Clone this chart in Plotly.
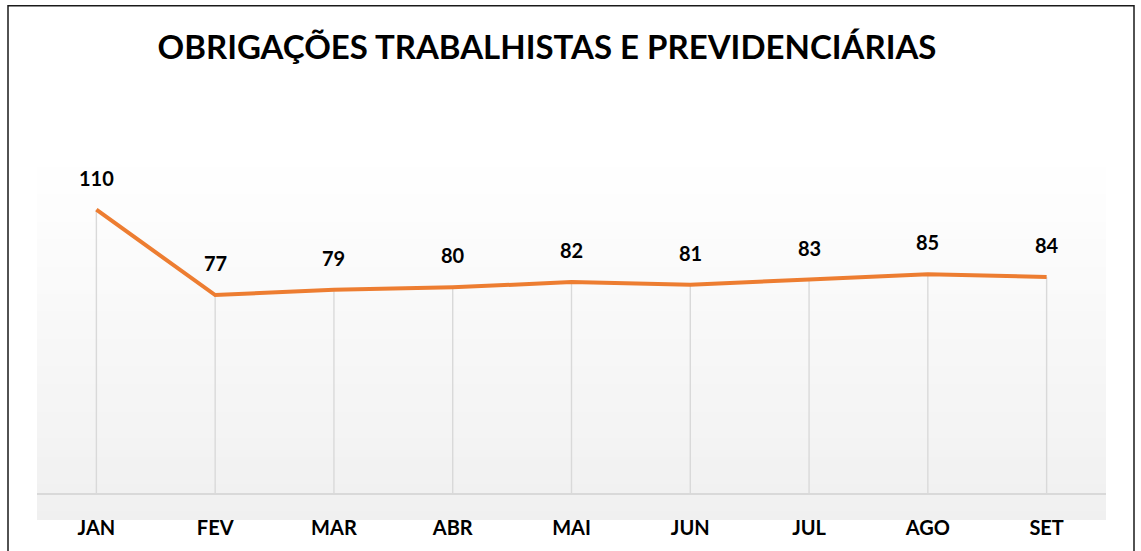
import plotly.graph_objects as go

months = ["JAN", "FEV", "MAR", "ABR", "MAI", "JUN", "JUL", "AGO", "SET"]
values = [110, 77, 79, 80, 82, 81, 83, 85, 84]
title_text = "OBRIGAÇÕES TRABALHISTAS E PREVIDENCIÁRIAS"

W, H = 1141, 551
L, R, T, B = 37, 35, 158, 29
plot_h = H - T - B
plot_w = W - L - R

fig = go.Figure()

# drop lines from each point to zero
fig.add_trace(go.Scatter(
    x=months, y=values, mode="markers",
    marker=dict(size=1, opacity=0),
    error_y=dict(type="data", symmetric=False, array=[0] * len(values),
                 arrayminus=values, width=0, thickness=1.4, color="#d9d9d9"),
    hoverinfo="skip", showlegend=False,
))

fig.add_trace(go.Scatter(
    x=months, y=values, mode="lines",
    line=dict(color="#ED7D31", width=4),
    showlegend=False,
))

for m, v in zip(months, values):
    fig.add_annotation(x=m, y=v, text=str(v), showarrow=False, yshift=32,
                       font=dict(family="Lato", size=20, color="#000000"))

shapes = []
n = 40
for i in range(n):
    f0 = i / n
    f1 = (i + 1) / n
    t = (i + 0.5) / n  # 0 bottom, 1 top
    c = int(round(240 + 15 * t))
    shapes.append(dict(type="rect", xref="paper", yref="paper", x0=0, x1=1,
                       y0=f0, y1=f1 + 0.002, line=dict(width=0),
                       fillcolor=f"rgb({c},{c},{c})", layer="below"))

# outer border
shapes.append(dict(type="rect", xref="paper", yref="paper",
                   x0=(8 - L) / plot_w, x1=(1134 - L) / plot_w,
                   y0=(H - B - 600) / plot_h, y1=(H - B - 5) / plot_h,
                   line=dict(color="#1a1a1a", width=1.5), layer="above"))

fig.update_layout(
    width=W, height=H,
    margin=dict(l=L, r=R, t=T, b=B, pad=0),
    paper_bgcolor="#ffffff", plot_bgcolor="#f6f6f6",
    title=dict(text=title_text, x=547 / W, xanchor="center",
               y=1 - 47 / H, yanchor="middle", xref="container", yref="container",
               font=dict(family="Lato", size=33, color="#000000", weight="bold")),
    shapes=shapes,
    showlegend=False,
    font=dict(family="Lato"),
)
fig.update_xaxes(showgrid=False, showline=False, ticks="", zeroline=False,
                 range=[-0.5, 8.5], ticklabelstandoff=-6,
                 tickfont=dict(family="Lato", size=20, color="#000000", weight="bold"))
fig.update_yaxes(range=[-10, 130], showgrid=False, showticklabels=False, ticks="",
                 zeroline=True, zerolinecolor="#d9d9d9", zerolinewidth=2, showline=False)

fig.update_annotations(font_weight="bold")

fig.write_html("out.html", config={"displayModeBar": False},
               post_script="document.body.style.margin='0';document.body.style.overflow='hidden';")
